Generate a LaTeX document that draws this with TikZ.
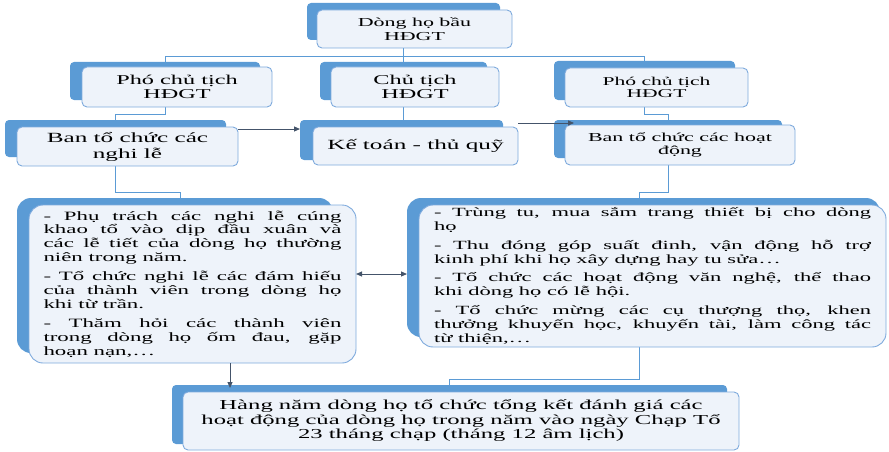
\documentclass[tikz,border=0pt]{standalone}
\usepackage{fontspec}
\setmainfont{Liberation Serif}[FakeStretch=1.8]
\usetikzlibrary{arrows.meta}
\definecolor{shd}{HTML}{5B9BD5}
\definecolor{frfill}{HTML}{EEF3FA}
\definecolor{frline}{HTML}{7EAADD}
\definecolor{arrc}{HTML}{44546A}
\pgfdeclarelayer{bg}
\pgfsetlayers{bg,main}
\newlength\jlw
\newcommand\jl[1]{{\spaceskip=0pt\xspaceskip=0pt\makebox[\jlw][s]{#1}}}
\newcommand\nl[1]{{\spaceskip=0pt\xspaceskip=0pt\makebox[\jlw][l]{#1}}}
\begin{document}
\begin{tikzpicture}[x=1pt,y=-1pt,
  shadowbox/.style={fill=shd, rounded corners=4pt, inner sep=0pt, outer sep=0pt},
  frontbox/.style={fill=frfill, draw=frline, line width=0.9pt, rounded corners=5pt, inner sep=0pt, outer sep=0pt, align=center},
  conn/.style={draw=shd, line width=1pt},
  arr/.style={draw=arrc, line width=1pt, -{Triangle[length=6pt,width=5pt]}},
  arrboth/.style={draw=arrc, line width=1pt, {Triangle[length=6pt,width=5pt]}-{Triangle[length=6pt,width=5pt]}}]
\useasboundingbox (0,0) rectangle (889,452);

% top
\node[shadowbox, minimum width=193pt, minimum height=37pt] (ts) at (403.5,21.5) {};
\node[frontbox, minimum width=195pt, minimum height=38pt, font=\fontsize{12.2}{14}\selectfont] (t) at (414.5,29) {Dòng họ bầu\\HĐGT};

% level 2
\node[shadowbox, minimum width=190pt, minimum height=38pt] (ps1) at (165,81) {};
\node[frontbox, minimum width=190pt, minimum height=40pt, font=\fontsize{13.5}{14}\selectfont] (p1) at (177,87) {Phó chủ tịch\\HĐGT};
\node[shadowbox, minimum width=167pt, minimum height=38pt] (ps2) at (403.5,81) {};
\node[frontbox, minimum width=168pt, minimum height=40pt, font=\fontsize{13.5}{14}\selectfont] (p2) at (415,87) {Chủ tịch\\HĐGT};
\node[shadowbox, minimum width=181pt, minimum height=39pt] (ps3) at (644.5,80.5) {};
\node[frontbox, minimum width=183pt, minimum height=39pt, font=\fontsize{12}{12.5}\selectfont] (p3) at (656.5,87.5) {Phó chủ tịch\\HĐGT};

% level 3
\node[shadowbox, minimum width=221pt, minimum height=37pt] (bs1) at (115.5,138.5) {};
\node[frontbox, minimum width=221pt, minimum height=39pt, font=\fontsize{14}{16}\selectfont] (b1) at (127.5,146.5) {Ban tổ chức các\\nghi lễ};
\node[shadowbox, minimum width=203pt, minimum height=40pt] (bs2) at (401.5,140) {};
\node[frontbox, minimum width=205pt, minimum height=38pt, font=\fontsize{14}{16}\selectfont] (b2) at (415.5,146) {Kế toán - thủ quỹ};
\node[shadowbox, minimum width=228pt, minimum height=38pt] (bs3) at (668,139) {};
\node[frontbox, minimum width=230pt, minimum height=40pt, font=\fontsize{12.2}{12.5}\selectfont] (b3) at (680,145) {Ban tổ chức các hoạt\\động};

% level 4
\node[shadowbox, rounded corners=14pt, minimum width=316pt, minimum height=155pt] (ls1) at (175,275.5) {};
\setlength\jlw{298pt}
\node[frontbox, rounded corners=14pt, minimum width=327pt, minimum height=158pt, text width=298pt, align=justify, font=\fontsize{12.7}{13.8}\selectfont] (l1) at (192.5,284) {%
\jl{- Phụ trách các nghi lễ cúng}\\
\jl{khao tổ vào dịp đầu xuân và}\\
\jl{các lễ tiết của dòng họ thường}\\
\nl{niên trong năm.}\\[5.5pt]
\jl{- Tổ chức nghi lễ các đám hiếu}\\
\jl{của thành viên trong dòng họ}\\
\nl{khi từ trần.}\\[5.5pt]
\jl{- Thăm hỏi các thành viên}\\
\jl{trong dòng họ ốm đau, gặp}\\
\nl{hoạn nạn,…}};

\node[shadowbox, rounded corners=14pt, minimum width=473pt, minimum height=139pt] (rs) at (643.5,267.5) {};
\setlength\jlw{437pt}
\node[frontbox, rounded corners=14pt, minimum width=467pt, minimum height=142pt, text width=437pt, align=justify, font=\fontsize{12.5}{13.8}\selectfont] (r1) at (652.5,276) {%
\jl{- Trùng tu, mua sắm trang thiết bị cho dòng}\\
\nl{họ}\\[5pt]
\jl{- Thu đóng góp suất đinh, vận động hỗ trợ}\\
\nl{kinh phí khi họ xây dựng hay tu sửa…}\\[5pt]
\jl{- Tổ chức các hoạt động văn nghệ, thể thao}\\
\nl{khi dòng họ có lễ hội.}\\[5pt]
\jl{- Tổ chức mừng các cụ thượng thọ, khen}\\
\jl{thưởng khuyến học, khuyến tài, làm công tác}\\
\nl{từ thiện,…}};

% bottom
\node[shadowbox, minimum width=555pt, minimum height=59pt] (hs) at (449.5,414.5) {};
\node[frontbox, minimum width=556pt, minimum height=58pt, font=\fontsize{13.7}{14.5}\selectfont] (h1) at (461,421) {Hàng năm dòng họ tổ chức tổng kết đánh giá các\\hoạt động của dòng họ trong năm vào ngày Chạp Tổ\\23 tháng chạp (tháng 12 âm lịch)};

% connectors behind boxes
\begin{pgfonlayer}{bg}
\coordinate (j0) at (403.5,57);
\draw[conn] (ts.south) -- (ps2.north);
\draw[conn] (ps1.north) -- (ps1.north |- j0) -- (ps3.north |- j0) -- (ps3.north);
\draw[conn] (ps1.south) -- ++(0,14) -| (bs1.north);
\draw[conn] (ps2.south) -- (ps2.south |- bs2.north);
\draw[conn] (ps3.south) -- ++(0,14) -| (bs3.north);
\draw[conn] (bs1.south) -- ++(0,35) -| ([xshift=5pt]ls1.north);
\draw[conn] (bs3.south) -- ++(0,34) -| ([xshift=-4.5pt]rs.north);
\draw[conn] ([xshift=-4.5pt]rs.south) -- ++(0,42) -| (hs.north);
\end{pgfonlayer}

% arrows
\draw[arr] ([yshift=-2pt]b1.north east) -- ([yshift=-9pt]bs2.north west);
\draw[arr] ([yshift=4pt]b2.north east) -- ([xshift=20pt,yshift=-3pt]bs3.north west);
\draw[arrboth] ([yshift=10pt]l1.east) -- ([yshift=-6.5pt]rs.west);
\draw[arr] ([xshift=37.5pt]l1.south) -- ++(0,25);
\end{tikzpicture}
\end{document}
